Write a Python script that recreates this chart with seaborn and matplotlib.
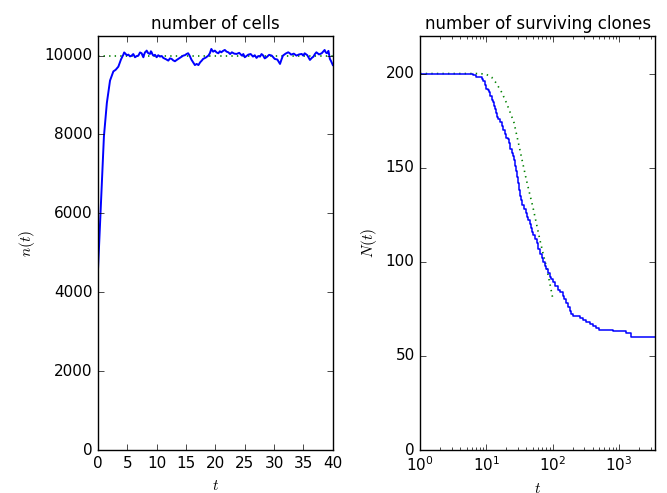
import numpy as np
import pandas as pd
import matplotlib
matplotlib.use("Agg")
import matplotlib.pyplot as plt
import seaborn as sns

# ---- data: number of cells ----
cells_t = [0.0, 0.3, 0.6, 1.0, 1.5, 2.04, 2.61, 3.0, 3.46, 3.9, 4.31, 4.45, 4.60, 4.9, 5.17,
           5.45, 5.73, 6.0, 6.30, 6.6, 6.87, 7.15, 7.43, 7.58, 7.72, 7.86, 8.0, 8.14, 8.28,
           8.55, 8.85, 9.0, 9.13, 9.27, 9.42, 9.7, 9.98, 10.25, 10.55, 10.85, 11.12, 11.55,
           11.97, 12.25, 12.54, 12.8, 13.1, 13.4, 13.67, 14.1, 14.52, 14.8, 15.09, 15.35,
           15.6, 15.9, 16.2, 16.5, 16.8, 17.1, 17.4, 17.65, 17.9, 18.35, 18.8, 19.05, 19.3,
           19.6, 19.9, 20.2, 20.5, 20.75, 21.0, 21.3, 21.6, 21.9, 22.2, 22.5, 22.8, 23.2,
           23.6, 24.05, 24.5, 24.75, 25.0, 25.3, 25.6, 26.0, 26.4, 26.7, 27.0, 27.3, 27.6,
           27.85, 28.1, 28.4, 28.7, 29.15, 29.6, 29.85, 30.1, 30.55, 31.0, 31.25, 31.5,
           31.95, 32.4, 32.65, 32.9, 33.35, 33.8, 34.25, 34.7, 34.95, 35.2, 35.65, 36.1,
           36.4, 36.7, 36.95, 37.2, 37.65, 38.1, 38.35, 38.6, 38.8, 39.0, 39.25, 39.5,
           39.7, 39.9, 40.0]
cells_n = [4600, 5600, 6600, 7950, 8800, 9367, 9600, 9640, 9720, 9900, 10025, 10080, 10059,
           10010, 10025, 9980, 10000, 10040, 9958, 9990, 10000, 10080, 10059, 10000, 9958,
           10030, 10084, 10100, 10127, 10060, 10042, 10110, 10084, 10030, 10000, 10020,
           9958, 10010, 9975, 9990, 9941, 9910, 9873, 9930, 9916, 9880, 9857, 9890, 9916,
           9960, 10000, 10010, 10042, 10060, 10000, 9900, 9831, 9760, 9789, 9760, 9831,
           9870, 9916, 9950, 10000, 10060, 10169, 10100, 10127, 10080, 10059, 10110, 10084,
           10120, 10143, 10100, 10084, 10040, 10084, 10050, 10042, 10070, 10000, 10040,
           9958, 9990, 10025, 10040, 9975, 10010, 9941, 9990, 9975, 10040, 10008, 9930,
           9958, 10020, 10000, 9960, 9916, 9900, 9789, 9900, 10000, 10050, 10084, 10060,
           10025, 10050, 10000, 10030, 10042, 10000, 10059, 10010, 9890, 9940, 9975, 10040,
           10084, 10030, 10059, 10100, 10143, 10080, 10059, 10120, 9916, 9860, 9789, 9760]
capacity_t = [0, 40]
capacity_n = [10000, 10000]

# ---- data: surviving clones ----
clones_t = [1, 6.2, 7, 7.5, 8.5, 9, 9.5, 10, 10.5, 11, 11.5, 12, 12.5, 13, 13.5, 14, 14.5,
            15, 16, 17, 18, 19, 20, 21, 22, 23, 24, 25, 26, 27, 28, 29, 30, 31, 32, 33, 35,
            37, 39, 41, 43, 45, 47, 49, 51, 54, 57, 60, 64, 68, 72, 76, 80, 85, 90, 95, 101,
            110, 120, 130, 143, 150, 160, 170, 180, 190, 202, 260, 286, 320, 360, 404, 450,
            500, 800, 1300, 1515, 3500]
clones_n = [200, 199, 198, 198, 197, 196, 194, 192, 191, 190, 188, 186, 185, 183, 181, 179,
            177, 176, 174, 172, 170, 168, 166, 165, 163, 160, 158, 156, 154, 151, 148, 145,
            142, 138, 135, 133, 130, 128, 126, 124, 122, 120, 118, 116, 114, 112, 110, 107,
            104, 102, 100, 98, 96, 94, 92, 91, 89, 87, 85, 84, 82, 80, 78, 76, 74, 72, 71,
            70, 69, 68, 67, 66, 65, 64, 63, 62, 60, 60]
theory_t = [1, 6, 8, 10, 12, 14, 17, 20, 23, 26, 30, 35, 40, 45, 50, 57, 64, 72, 80, 90, 100]
theory_n = [200, 200, 200, 199.5, 198, 195, 190, 184.5, 179, 174, 164, 153, 143.6, 136,
            129.4, 120, 111.7, 104, 97.5, 89, 80.7]

plt.style.use("classic")
plt.rcParams["figure.facecolor"] = "white"
plt.rcParams["savefig.facecolor"] = "white"
plt.rcParams["font.size"] = 11

fig = plt.figure(figsize=(6.67, 4.93), dpi=100)
ax1 = fig.add_axes([0.147, 0.0872, 0.352, 0.840])
ax2 = fig.add_axes([0.630, 0.0872, 0.352, 0.840])

df_cells = pd.DataFrame({"t": cells_t, "n": cells_n})
df_cap = pd.DataFrame({"t": capacity_t, "n": capacity_n})
sns.lineplot(data=df_cap, x="t", y="n", ax=ax1, color="g", linestyle=":", linewidth=1.2, estimator=None)
sns.lineplot(data=df_cells, x="t", y="n", ax=ax1, color="b", linewidth=1.4, estimator=None)
ax1.set_xlim(0, 40)
ax1.set_ylim(0, 10500)
ax1.set_xticks([0, 5, 10, 15, 20, 25, 30, 35, 40])
ax1.set_yticks([0, 2000, 4000, 6000, 8000, 10000])
ax1.set_xlabel("$t$")
ax1.set_ylabel("$n(t)$")
ax1.set_title("number of cells", fontsize=12)

df_cl = pd.DataFrame({"t": clones_t, "N": clones_n})
df_th = pd.DataFrame({"t": theory_t, "N": theory_n})
sns.lineplot(data=df_th, x="t", y="N", ax=ax2, color="g", linestyle=":", linewidth=1.2, estimator=None)
sns.lineplot(data=df_cl, x="t", y="N", ax=ax2, color="b", linewidth=1.1, estimator=None,
             drawstyle="steps-post")
ax2.set_xscale("log")
ax2.set_xlim(1, 3500)
ax2.set_ylim(0, 220)
ax2.set_yticks([0, 50, 100, 150, 200])
ax2.set_xlabel("$t$")
ax2.set_ylabel("$N(t)$")
ax2.set_title("number of surviving clones", fontsize=12)

for ax in (ax1, ax2):
    ax.tick_params(labelsize=11)

fig.savefig("out.png", dpi=100)
